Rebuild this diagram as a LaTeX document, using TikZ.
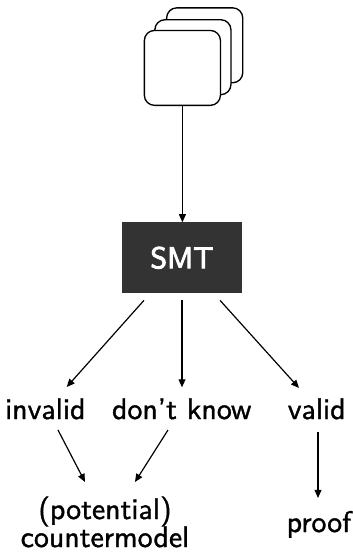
\documentclass[tikz,border=0pt]{standalone}
\usetikzlibrary{arrows.meta,calc}
\definecolor{smtgray}{HTML}{333333}
\newcommand\heavytext[2]{\special{pdf:literal direct 2 Tr #1 w}#2\special{pdf:literal direct 0 Tr}}
\begin{document}
\begin{tikzpicture}[x=0.335pt,y=-0.335pt,
  font=\sffamily,
  card/.style={draw=black,fill=white,rounded corners=3.4pt,minimum width=25.5pt,minimum height=25.1pt,inner sep=0pt,line width=0.45pt},
  smtbox/.style={fill=smtgray,text=white,minimum width=40pt,minimum height=23.8pt,inner sep=0pt,outer sep=0pt},
  lbl/.style={anchor=base,inner sep=0pt},
  arr/.style={-{Triangle[length=2.7pt,width=2.3pt]},line width=0.4pt}]
\useasboundingbox (0,0) rectangle (352,552);
% stack of inputs
\node[card] (c3) at (204.7,45.3) {};
\node[card] (c2) at (192.9,57.2) {};
\node[card] (c1) at (182.4,67.9) {};
% solver
\node[smtbox] (smt) at (182,257.8) {\heavytext{0.3}{SMT}};
% results
\node[lbl] (inv) at (45.3,419) {\heavytext{0.12}{invalid}};
\node[lbl] (dk) at (181.7,419) {\heavytext{0.12}{don't know}};
\node[lbl] (val) at (316.7,419) {\heavytext{0.12}{valid}};
\node[lbl] (pot) at (105,519) {\heavytext{0.12}{(potential)}};
\node[lbl] (cm) at (105,547) {\heavytext{0.12}{countermodel}};
\node[lbl] (proof) at (319,532) {\heavytext{0.12}{proof}};
% connectors
\draw[arr] (c1.south) -- (c1.south |- smt.north);
\draw[arr] ($(smt.south)+(-38,7)$) -- ($(inv.base)+(21.4,-32)$);
\draw[arr] ($(smt.south)+(0,7)$) -- ($(smt.south)+(0,94)$);
\draw[arr] ($(smt.south)+(38,7)$) -- ($(val.base)+(-17.7,-31)$);
\draw[arr] ($(inv.base)+(12.7,11)$) -- ($(pot.base)+(-20,-37)$);
\draw[arr] ($(dk.base)+(-13.7,11)$) -- ($(pot.base)+(30,-37)$);
\draw[arr] ($(val.base)+(1.3,13)$) -- ($(val.base)+(1.3,79)$);
\end{tikzpicture}
\end{document}
